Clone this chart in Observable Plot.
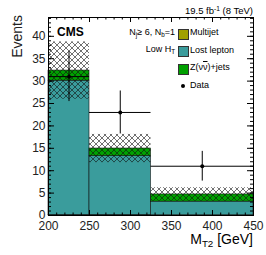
<!DOCTYPE html>
<html><head><meta charset="utf-8">
<script src="https://cdn.jsdelivr.net/npm/d3@7"></script>
<script src="https://cdn.jsdelivr.net/npm/@observablehq/plot@0.6"></script>
<style>
body{margin:0;background:#fff;}
#wrap{position:relative;width:266px;height:255px;font-family:"Liberation Sans",Arial,Helvetica,sans-serif;color:#000;overflow:hidden;}
.lbl{position:absolute;white-space:nowrap;line-height:1;}
.lbl sub,.lbl sup{vertical-align:baseline;position:relative;font-size:70%;line-height:0;}
.lbl sub{top:0.3em;}
.lbl sup{top:-0.45em;}
.box{position:absolute;width:8.5px;height:9px;border:0.6px solid #333;}
.ddot{position:absolute;width:4px;height:4px;border-radius:50%;background:#000;}
</style></head><body><div id="wrap"></div>
<script>
// ---- data ----
const binLo = [200, 250, 325];
const binHi = [250, 325, 450];
const multijet = [0.1, 0.1, 0.05];
const lostLepton = [30.0, 13.15, 3.05];
const zinv = [2.25, 1.7, 1.6];
const bkgErr = [6.4, 3.15, 1.5];
const dataX = [225, 287.5, 387.5];
const dataCounts = [31, 23, 11];
const xTicks = [200, 250, 300, 350, 400, 450];
const yTicks = [0, 5, 10, 15, 20, 25, 30, 35, 40];
const procs = ["Multijet", "Lost lepton", "Z(vv)+jets"];
const procColors = ["#a0a000", "#3a9c9c", "#00a000"];

// ---- layout ----
const W = 266, H = 255, mL = 48, mR = 13, mT = 17, mB = 40;
const fw = W - mL - mR, fh = H - mT - mB;

const stackRows = [];
const totals = [];
binLo.forEach((lo, i) => {
  let y0 = 0;
  [multijet[i], lostLepton[i], zinv[i]].forEach((v, k) => {
    stackRows.push({lo, hi: binHi[i], p: procs[k], y1: y0, y2: y0 + v});
    y0 += v;
  });
  totals.push({lo, hi: binHi[i], lowE: y0 - bkgErr[i], highE: y0 + bkgErr[i]});
});
const dataRows = dataX.map((x, i) => ({x, lo: binLo[i], hi: binHi[i], n: dataCounts[i], e: Math.sqrt(dataCounts[i])}));

const xMinor = d3.range(200, 451, 10);
const yMinor = d3.range(0, 45, 1);

const plot = Plot.plot({
  width: W, height: H,
  marginLeft: mL, marginRight: mR, marginTop: mT, marginBottom: mB,
  x: {domain: [200, 450], label: null},
  y: {domain: [0, 44.2], label: null},
  color: {domain: procs, range: procColors},
  style: {fontFamily: '"Liberation Sans", Arial, Helvetica, sans-serif', fontSize: "12px", background: "white", color: "black", overflow: "visible"},
  marks: [
    Plot.rect(stackRows, {x1: "lo", x2: "hi", y1: "y1", y2: "y2", fill: "p", stroke: "#111", strokeWidth: 0.6}),
    Plot.rect(totals, {x1: "lo", x2: "hi", y1: "lowE", y2: "highE", fill: "url(#hatch)"}),
    Plot.ruleY(dataRows, {y: "n", x1: "lo", x2: "hi", stroke: "black", strokeWidth: 1}),
    Plot.ruleX(dataRows, {x: "x", y1: d => d.n - d.e, y2: d => d.n + d.e, stroke: "black", strokeWidth: 1}),
    Plot.dot(dataRows, {x: "x", y: "n", r: 2, fill: "black", stroke: null}),
    Plot.frame({stroke: "black", strokeWidth: 1}),
    // inward ticks, all four sides
    Plot.tickX(xTicks, {x: d => d, insetTop: fh - 5, stroke: "black"}),
    Plot.tickX(xMinor, {x: d => d, insetTop: fh - 2.5, stroke: "black"}),
    Plot.tickX(xTicks, {x: d => d, insetBottom: fh - 5, stroke: "black"}),
    Plot.tickX(xMinor, {x: d => d, insetBottom: fh - 2.5, stroke: "black"}),
    Plot.tickY(yTicks, {y: d => d, insetRight: fw - 6, stroke: "black"}),
    Plot.tickY(yMinor, {y: d => d, insetRight: fw - 3, stroke: "black"}),
    Plot.tickY(yTicks, {y: d => d, insetLeft: fw - 6, stroke: "black"}),
    Plot.tickY(yMinor, {y: d => d, insetLeft: fw - 3, stroke: "black"}),
    Plot.axisX({ticks: xTicks, tickSize: 0, tickPadding: 6, label: null, fill: "#222"}),
    Plot.axisY({ticks: yTicks, tickSize: 0, tickPadding: 3, label: null, fill: "#222"})
  ]
});

// hatch pattern
const defs = d3.select(plot).insert("defs", ":first-child");
const pat = defs.append("pattern").attr("id", "hatch").attr("patternUnits", "userSpaceOnUse")
  .attr("width", 6).attr("height", 6);
pat.append("path").attr("d", "M0,0L6,6M6,0L0,6M-1,5L1,7M5,-1L7,1M-1,1L1,-1M5,7L7,5")
  .attr("stroke", "#111").attr("stroke-width", 0.6).attr("fill", "none");

// Events axis title
d3.select(plot).append("text").text("Events")
  .attr("transform", "translate(22,15) rotate(-90)")
  .attr("text-anchor", "end").attr("font-size", 14).attr("fill", "#222");

const wrap = document.getElementById("wrap");
wrap.appendChild(plot);

function label(html, {left, right, baseline, fs, bold}) {
  const d = document.createElement("div");
  d.className = "lbl";
  d.innerHTML = html;
  d.style.fontSize = fs + "px";
  if (bold) d.style.fontWeight = "bold";
  d.style.top = (baseline - 0.847 * fs) + "px";
  if (left != null) d.style.left = left + "px";
  if (right != null) d.style.right = (W - right) + "px";
  wrap.appendChild(d);
}
label("CMS", {left: 57, baseline: 36, fs: 12, bold: true});
label("19.5 fb<sup>-1</sup> (8 TeV)", {right: 253, baseline: 14, fs: 9.5});
label("N<sub>j</sub>\u2265 6, N<sub>b</sub>=1", {right: 175, baseline: 35.5, fs: 9});
label("Low H<sub>T</sub>", {right: 175, baseline: 53, fs: 9});
label("M<sub>T2</sub> [GeV]", {right: 253, baseline: 243.5, fs: 14});

const legendNames = ["Multijet", "Lost lepton", "Z(\u03bd<span style=\"text-decoration:overline\">\u03bd</span>)+jets", "Data"];
const legendBase = [36, 53.5, 71, 88.5];
legendNames.forEach((nm, i) => {
  label(nm, {left: 190, baseline: legendBase[i], fs: 9});
  if (i < 3) {
    const b = document.createElement("div");
    b.className = "box";
    b.style.left = "178px";
    b.style.top = (legendBase[i] - 7.5) + "px";
    b.style.background = procColors[i];
    wrap.appendChild(b);
  } else {
    const dd = document.createElement("div");
    dd.className = "ddot";
    dd.style.left = "180.5px";
    dd.style.top = (legendBase[i] - 4.5) + "px";
    wrap.appendChild(dd);
  }
});
</script></body></html>
